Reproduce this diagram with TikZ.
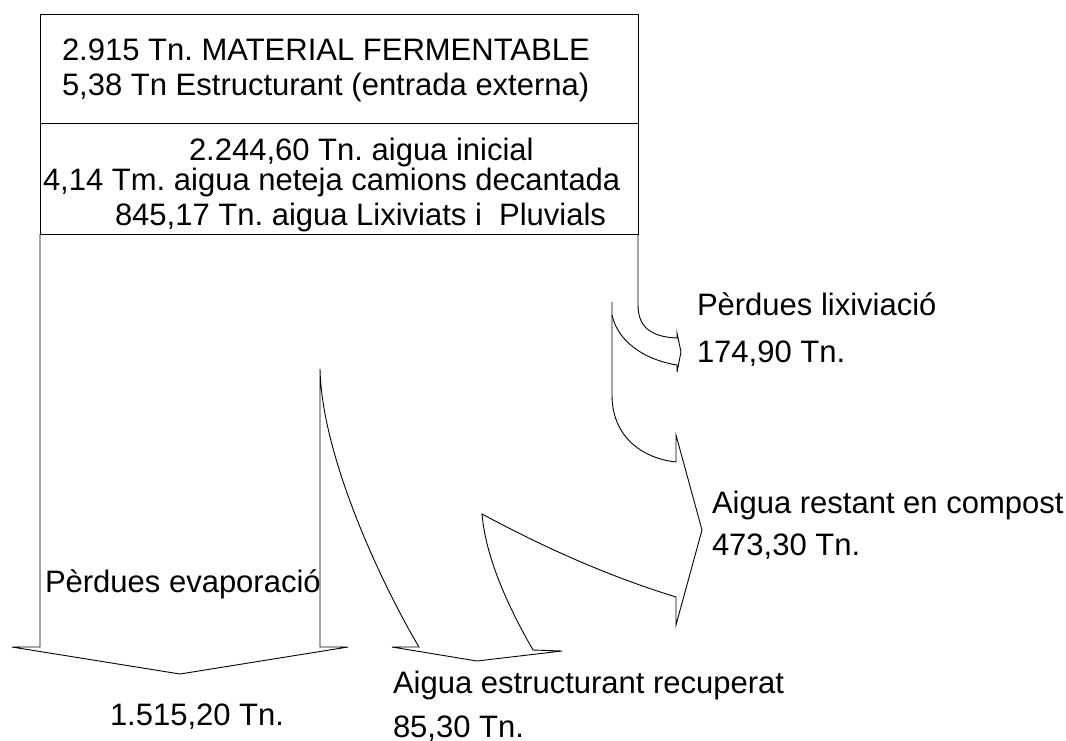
\documentclass[tikz,border=0pt]{standalone}
\usepackage{fontspec}
\setmainfont{Liberation Sans}
\frenchspacing
\begin{document}
\begin{tikzpicture}[x=1pt,y=-1pt,line width=0.9pt,line join=miter,
  lbl/.style={anchor=base west,inner sep=0pt,outer sep=0pt,font=\fontsize{31}{37}\selectfont},
  flow/.style={draw=black}]
\useasboundingbox (0,0) rectangle (1066,740);
\clip (0,0) rectangle (1066,740);

% input box
\draw[flow] (40,14) rectangle (638,234);
\draw[flow] (40,123) -- (638,123);

\node[lbl] (t1) at (62,60)  {2.915 Tn. MATERIAL FERMENTABLE};
\node[lbl] (t2) at (62,95)  {5,38 Tn Estructurant (entrada externa)};
\node[lbl] (t3) at (189,160) {2.244,60 Tn. aigua inicial};
\node[lbl] (t4) at (43,190) {4,14 Tm. aigua neteja camions decantada};
\node[lbl] (t5) at (115,225) {845,17 Tn. aigua Lixiviats i\ \ Pluvials};

% leachate loss arrow
\draw[flow] (638,234) -- (638,305) .. controls (638,330) and (655,337) .. (677,338)
  -- (677,333) -- (681,352) -- (677,372) -- (677,365)
  .. controls (645,360) and (618,342) .. (612,315);

% main flow: evaporation, recovered water, remaining water
\draw[flow] (40,234) -- (40,647) -- (12,647) -- (180,674) -- (348,647) -- (320,647) -- (320,369)
  .. controls (322,460) and (385,590) .. (419,647)
  -- (392,647) -- (477,661) -- (562,651) -- (533,650)
  .. controls (510,610) and (486,560) .. (482,514)
  .. controls (547,549) and (611,577) .. (676,597)
  -- (676,625) -- (702,530) -- (676,435) -- (676,462)
  .. controls (640,458) and (612,435) .. (612,395) -- (612,302);

\node[lbl] (lix1) at (697,315) {Pèrdues lixiviació};
\node[lbl] (lix2) at (697,362) {174,90 Tn.};
\node[lbl] (rest1) at (712,513) {Aigua restant en compost};
\node[lbl] (rest2) at (712,555) {473,30 Tn.};
\node[lbl] (evap1) at (45,592) {Pèrdues evaporació};
\node[lbl] (evap2) at (110,725) {1.515,20 Tn.};
\node[lbl] (rec1) at (393,693) {Aigua estructurant recuperat};
\node[lbl] (rec2) at (393,737) {85,30 Tn.};
\end{tikzpicture}
\end{document}
